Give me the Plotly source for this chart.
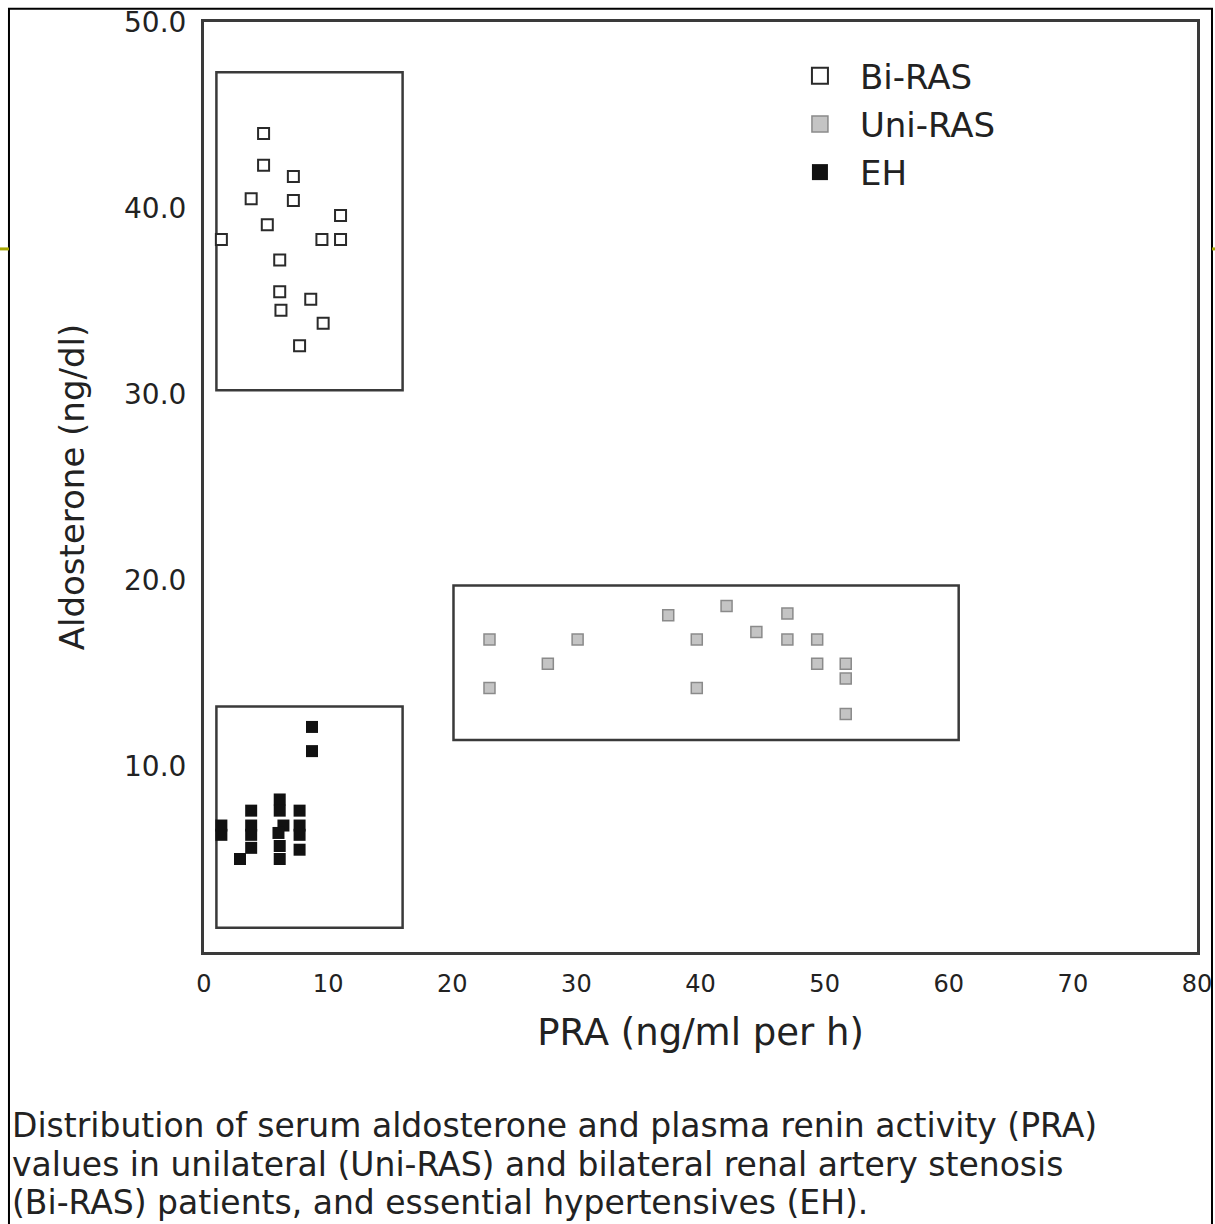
import plotly.graph_objects as go

# ---- data ----
bi_ras_pra = [4.8, 4.8, 7.2, 3.8, 7.2, 11.0, 5.1, 1.4, 9.5, 11.0, 6.1, 6.1, 8.6, 6.2, 9.6, 7.7]
bi_ras_aldo = [44.0, 42.3, 41.7, 40.5, 40.4, 39.6, 39.1, 38.3, 38.3, 38.3, 37.2, 35.5, 35.1, 34.5, 33.8, 32.6]

uni_ras_pra = [23.0, 23.0, 27.7, 30.1, 37.4, 39.7, 39.7, 42.1, 44.5, 47.0, 47.0, 49.4, 49.4, 51.7, 51.7, 51.7]
uni_ras_aldo = [16.8, 14.2, 15.5, 16.8, 18.1, 16.8, 14.2, 18.6, 17.2, 18.2, 16.8, 16.8, 15.5, 15.5, 14.7, 12.8]

eh_pra = [8.7, 8.7, 1.4, 1.4, 3.8, 3.8, 3.8, 3.8, 2.9, 6.1, 6.1, 6.4, 6.0, 6.1, 6.1, 7.7, 7.7, 7.7, 7.7]
eh_aldo = [12.1, 10.8, 6.8, 6.3, 7.6, 6.8, 6.3, 5.6, 5.0, 8.2, 7.6, 6.8, 6.4, 5.7, 5.0, 7.6, 6.8, 6.3, 5.5]

# group enclosing boxes: (x0, x1, y0, y1)
box_bi = (1.0, 16.0, 30.2, 47.3)
box_uni = (20.1, 60.8, 11.4, 19.7)
box_eh = (1.0, 16.0, 1.3, 13.2)

x_ticks = [0, 10, 20, 30, 40, 50, 60, 70, 80]
y_ticks = [10, 20, 30, 40, 50]
y_tick_text = ["10.0", "20.0", "30.0", "40.0", "50.0"]

caption_lines = [
    "Distribution of serum aldosterone and plasma renin activity (PRA)",
    "values in unilateral (Uni-RAS) and bilateral renal artery stenosis",
    "(Bi-RAS) patients, and essential hypertensives (EH).",
]

FONT = "DejaVu Sans, Liberation Sans, sans-serif"
TXT = "#222222"
FRAME = "#3a3a3a"

styles = {
    "Bi-RAS": dict(symbol="square", color="white", line=dict(color="#2a2a2a", width=2)),
    "Uni-RAS": dict(symbol="square", color="#c4c4c4", line=dict(color="#8a8a8a", width=1.5)),
    "EH": dict(symbol="square", color="#111111", line=dict(color="#111111", width=0)),
}
series = [
    ("Bi-RAS", bi_ras_pra, bi_ras_aldo, 11),
    ("Uni-RAS", uni_ras_pra, uni_ras_aldo, 11),
    ("EH", eh_pra, eh_aldo, 12),
]

fig = go.Figure()

for name, xs, ys, size in series:
    st = styles[name]
    fig.add_trace(go.Scatter(
        x=xs, y=ys, mode="markers", name=name, legendgroup=name, showlegend=False,
        marker=dict(symbol=st["symbol"], size=size, color=st["color"], line=st["line"]),
    ))
# legend keys (larger symbols, linked to the data traces)
for name, xs, ys, size in series:
    st = styles[name]
    fig.add_trace(go.Scatter(
        x=[None], y=[None], mode="markers", name=name, legendgroup=name, showlegend=True,
        marker=dict(symbol=st["symbol"], size=30, color=st["color"],
                    line=dict(color=st["line"]["color"], width=st["line"]["width"])),
    ))

for (x0, x1, y0, y1) in (box_bi, box_uni, box_eh):
    fig.add_shape(type="rect", xref="x", yref="y", x0=x0, x1=x1, y0=y0, y1=y1,
                  line=dict(color=FRAME, width=2.5), fillcolor="rgba(0,0,0,0)",
                  layer="below")

# outer page frame
fig.add_shape(type="rect", xref="paper", yref="paper",
              x0=-0.1964, x1=1.0151, y0=-0.31, y1=1.0143,
              line=dict(color="black", width=2), fillcolor="rgba(0,0,0,0)")
# small olive marks at page edges
fig.add_shape(type="line", xref="paper", yref="paper",
              x0=-0.2060, x1=-0.1964, y0=0.756, y1=0.756,
              line=dict(color="#a6a600", width=3))
fig.add_shape(type="line", xref="paper", yref="paper",
              x0=1.0151, x1=1.0200, y0=0.756, y1=0.756,
              line=dict(color="#a6a600", width=3))

caption_y = [-0.1870, -0.2284, -0.2690]
for line, yy in zip(caption_lines, caption_y):
    fig.add_annotation(text=line, xref="paper", yref="paper", x=-0.1954, y=yy,
                       xanchor="left", yanchor="middle", showarrow=False,
                       font=dict(family=FONT, size=33, color=TXT))

fig.update_layout(
    width=1215, height=1224,
    margin=dict(l=204, r=18, t=22, b=272, autoexpand=False),
    paper_bgcolor="white", plot_bgcolor="white",
    font=dict(family=FONT, color=TXT),
    showlegend=True,
    legend=dict(x=0.580, y=0.973, xanchor="left", yanchor="top", itemwidth=70,
                bgcolor="rgba(0,0,0,0)", font=dict(family=FONT, size=34, color=TXT),
                tracegroupgap=1, traceorder="grouped"),
    xaxis=dict(range=[0, 80], tickvals=x_ticks, ticks="", showgrid=False,
               zeroline=False, showline=True, mirror=True, linewidth=3,
               linecolor=FRAME, tickfont=dict(size=24, color=TXT),
               ticklabelstandoff=8, automargin=False, ticklabeloverflow="allow",
               title=dict(text="PRA (ng/ml per h)", font=dict(size=37, color=TXT),
                          standoff=23)),
    yaxis=dict(range=[0, 50], tickvals=y_ticks, ticktext=y_tick_text, ticks="",
               showgrid=False, zeroline=False, showline=True, mirror=True,
               linewidth=3, linecolor=FRAME, tickfont=dict(size=28, color=TXT),
               ticklabelstandoff=9, automargin=False, ticklabeloverflow="allow",
               title=dict(text="Aldosterone (ng/dl)", font=dict(size=34, color=TXT),
                          standoff=30)),
)

fig.write_html(
    "out.html",
    config={"displayModeBar": False},
    post_script="document.body.style.margin='0px';document.body.style.overflow='hidden';",
)
